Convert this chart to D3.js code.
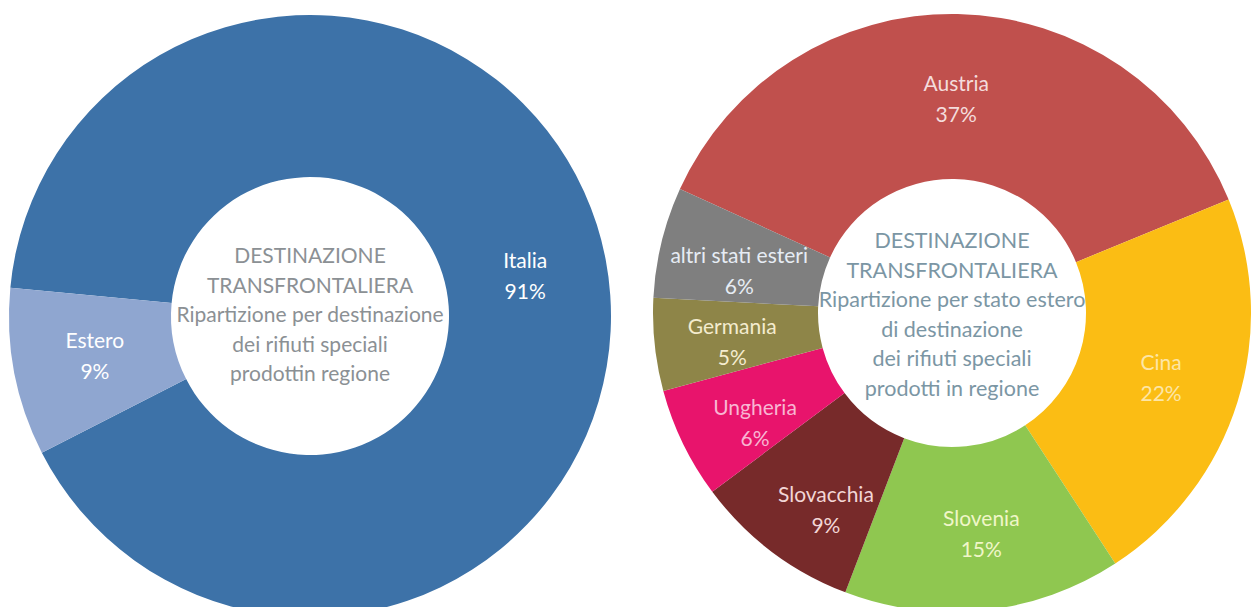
<!DOCTYPE html>
<html>
<head>
<meta charset="utf-8">
<script src="https://cdn.jsdelivr.net/npm/d3@7"></script>
<style>
  body { margin: 0; background: #fff; }
  text { font-family: Lato, "Open Sans", sans-serif; }
</style>
</head>
<body>
<script>
"use strict";
// left donut: destinazione
let destNames = ["Italia", "Estero"];
let destValues = [91, 9];
let destColors = ["#3d72a8", "#8fa6d0"];
let destCenter = ["DESTINAZIONE", "TRANSFRONTALIERA", "Ripartizione per destinazione", "dei rifiuti speciali", "prodottin regione"];

// right donut: stato estero
let statoNames = ["Austria", "Cina", "Slovenia", "Slovacchia", "Ungheria", "Germania", "altri stati esteri"];
let statoValues = [37, 22, 15, 9, 6, 5, 6];
let statoColors = ["#c0504d", "#fbbd14", "#8fc750", "#772a2a", "#e8146c", "#8e8548", "#7f7f7f"];
let statoLabelColors = ["#f4dcdc", "#fde6a6", "#f0f6c8", "#f2d6d6", "#f8b6d2", "#f4eccf", "#e6ecf4"];
let statoCenter = ["DESTINAZIONE", "TRANSFRONTALIERA", "Ripartizione per stato estero", "di destinazione", "dei rifiuti speciali", "prodotti in regione"];

// small hand nudges of the labels (style only)
let destNudge = [[0, 1], [0, -1]];
let statoNudge = [[0, 5], [0, 0], [6, 3], [6, 22], [0, 14], [-2, 6], [0, 10]];

let svgContainer = d3.select("body")
                     .append("svg")
                     .attr("width", 1251)
                     .attr("height", 607)

function donut(cx, cy, rOuter, rInner, start, names, values, colors, labelColors, nudges, centerLines, centerColor, centerSize, centerTop) {
    let g = svgContainer.append("g")
                        .attr("transform", "translate(" + cx + "," + cy + ")")
    let data = names.map((n, i) => ({name: n, value: values[i], color: colors[i], label: labelColors[i], nudge: nudges[i]}))
    let pie = d3.pie()
                .sort(null)
                .value((d) => d.value)
                .startAngle(start)
                .endAngle(start + 2 * Math.PI)
    let arc = d3.arc()
                .innerRadius(rInner)
                .outerRadius(rOuter)
    let labelArc = d3.arc()
                     .innerRadius(219)
                     .outerRadius(219)
    let arcs = pie(data)
    g.selectAll("path")
        .data(arcs)
        .enter()
        .append("path")
        .attr("d", arc)
        .attr("fill", (d) => d.data.color)
    let labels = g.selectAll("text.lbl")
        .data(arcs)
        .enter()
        .append("text")
        .attr("class", "lbl")
        .attr("text-anchor", "middle")
        .attr("font-size", 21)
        .attr("fill", (d) => d.data.label)
        .attr("transform", (d) => {
                let c = labelArc.centroid(d)
                return "translate(" + (c[0] + d.data.nudge[0]) + "," + (c[1] + d.data.nudge[1]) + ")"
        })
    labels.append("tspan")
        .attr("x", 0)
        .attr("y", -8)
        .text((d) => d.data.name)
    labels.append("tspan")
        .attr("x", 0)
        .attr("y", 23)
        .text((d) => d.data.value + "%")
    g.selectAll("text.ctr")
        .data(centerLines)
        .enter()
        .append("text")
        .attr("class", "ctr")
        .attr("text-anchor", "middle")
        .attr("font-size", centerSize)
        .attr("fill", centerColor)
        .attr("x", 0)
        .attr("y", (d, i) => centerTop + i * 29.5)
        .text((d) => d)
}

donut(310, 316, 301, 139, -84.6 * Math.PI / 180, destNames, destValues, destColors,
      ["#ffffff", "#ffffff"], destNudge, destCenter, "#8b9094", 21, -53)
donut(952, 313, 299, 134, -65.5 * Math.PI / 180, statoNames, statoValues, statoColors,
      statoLabelColors, statoNudge, statoCenter, "#7b96a4", 21.5, -65)
</script>
</body>
</html>
